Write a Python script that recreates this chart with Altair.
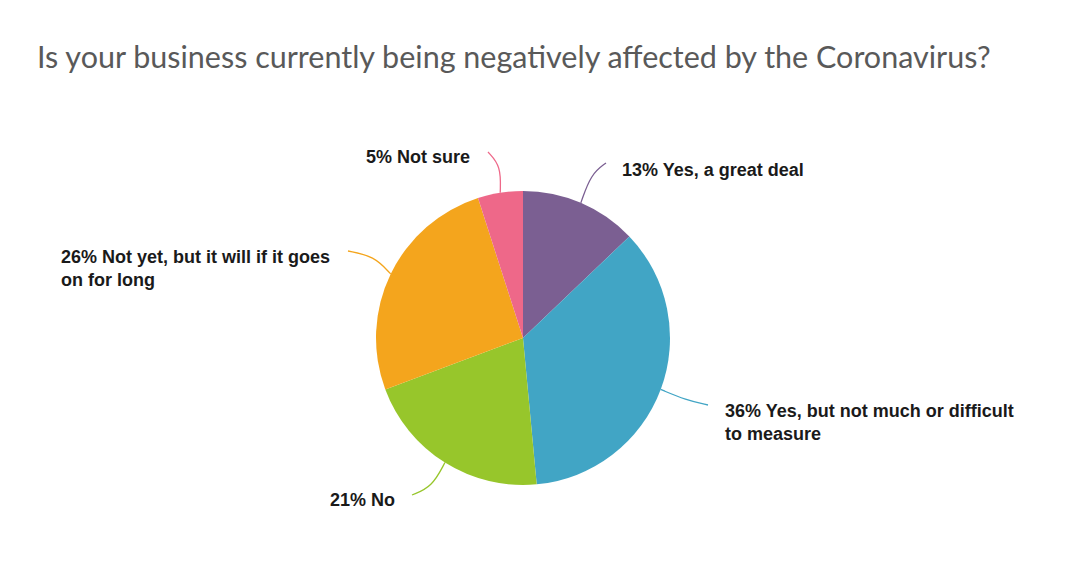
import math
import altair as alt
import pandas as pd

# ---- data ----
categories = [
    "Yes, a great deal",
    "Yes, but not much or difficult to measure",
    "No",
    "Not yet, but it will if it goes on for long",
    "Not sure",
]
values = [13, 36, 21, 26, 5]
label_texts = [
    "13% Yes, a great deal",
    "36% Yes, but not much or difficult\nto measure",
    "21% No",
    "26% Not yet, but it will if it goes\non for long",
    "5% Not sure",
]
title_text = "Is your business currently being negatively affected by the Coronavirus?"

# ---- styles / layout ----
colors = ["#7b5f92", "#41a5c5", "#97c62b", "#f4a51d", "#ee6889"]
W, H = 1057, 546
CX, CY, R = 523, 338, 147  # page coordinates
label_pos = [(622, 176), (725, 417), (330, 506), (61, 263), (366, 163)]
leader_bend = [(591, 174), (686, 400), (432, 487), (374, 256), (501, 166)]
leader_end = [(606, 163), (708, 405), (412, 495), (348, 251), (488, 152)]

total = sum(values)
pie_df = pd.DataFrame({"category": categories, "value": values, "order": range(len(values))})

rows = []
cum = 0
for i, v in enumerate(values):
    ang = (cum + v / 2) / total * 2 * math.pi
    cum += v
    sx = CX + R * math.sin(ang)
    sy = CY - R * math.cos(ang)
    pts = [(sx, sy), leader_bend[i], leader_end[i]]
    for j, (px, py) in enumerate(pts):
        rows.append({"category": categories[i], "idx": j, "x": px, "y": py})
line_df = pd.DataFrame(rows)

label_df = pd.DataFrame({
    "category": categories,
    "text": label_texts,
    "x": [p[0] for p in label_pos],
    "y": [p[1] for p in label_pos],
})

xs = alt.Scale(domain=[8, 8 + W])
ys = alt.Scale(domain=[8 + H, 8])
cs = alt.Scale(domain=categories, range=colors)

pie = alt.Chart(pie_df).mark_arc(radius=R, stroke=None).encode(
    theta=alt.Theta("value:Q", stack=True),
    color=alt.Color("category:N", scale=cs, legend=None),
    order=alt.Order("order:Q"),
    x=alt.value(CX - 8),
    y=alt.value(CY - 8),
)

leaders = alt.Chart(line_df).mark_line(interpolate="basis", strokeWidth=1.3).encode(
    x=alt.X("x:Q", scale=xs, axis=None),
    y=alt.Y("y:Q", scale=ys, axis=None),
    color=alt.Color("category:N", scale=cs, legend=None),
    detail="category:N",
    order="idx:Q",
)

labels = alt.Chart(label_df).mark_text(
    align="left", baseline="alphabetic", font="Liberation Sans", fontWeight="bold",
    fontSize=18, color="#1a1a1a", lineBreak="\n", lineHeight=23,
).encode(
    x=alt.X("x:Q", scale=xs, axis=None),
    y=alt.Y("y:Q", scale=ys, axis=None),
    text="text:N",
)

title = alt.Chart(pd.DataFrame({"t": [title_text]})).mark_text(
    align="left", baseline="alphabetic", font="Lato", fontSize=30.5, color="#595959",
).encode(
    x=alt.value(37 - 8),
    y=alt.value(68 - 8),
    text="t:N",
)

chart = alt.layer(pie, leaders, labels, title).properties(
    width=W, height=H, padding=0, background="white"
).configure_view(stroke=None)

chart.save("out.html", embed_options={"renderer": "svg", "actions": False})
